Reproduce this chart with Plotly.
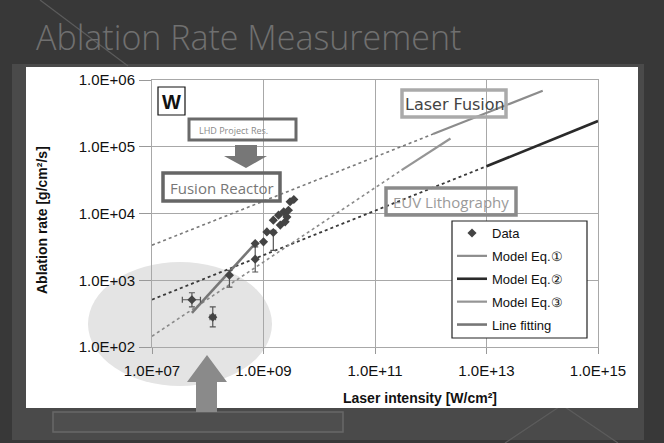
import plotly.graph_objects as go

# ---------------- data ----------------
intensity = [5.2e7, 1.23e8, 2.45e8, 7.1e8, 7.1e8, 1.0e9, 1.15e9, 1.5e9, 1.5e9,
             1.86e9, 2.0e9, 2.3e9, 2.45e9, 2.63e9, 2.8e9, 3.0e9, 3.5e9]
rate = [510, 280, 1190, 3550, 2070, 3760, 5300, 5200, 7950,
        9440, 6700, 10600, 7500, 8900, 11200, 15000, 16200]
rate_hi = [650, 400, 1410, 3550, 3160, 3760, 5300, 5600, 7950,
           9440, 6700, 10600, 7500, 8900, 11200, 15000, 16200]
rate_lo = [400, 200, 790, 3550, 1330, 3760, 5300, 2800, 7950,
           9440, 6700, 10600, 7500, 8900, 11200, 15000, 16200]
int_hi = [7.4e7, 1.38e8, 2.45e8, 7.1e8, 7.1e8, 1.0e9, 1.15e9, 1.5e9, 1.5e9,
          1.86e9, 2.0e9, 2.3e9, 2.45e9, 2.63e9, 2.8e9, 3.0e9, 3.5e9]
int_lo = [3.5e7, 1.1e8, 2.45e8, 7.1e8, 7.1e8, 1.0e9, 1.15e9, 1.5e9, 1.5e9,
          1.86e9, 2.0e9, 2.3e9, 2.45e9, 2.63e9, 2.8e9, 3.0e9, 3.5e9]

eq1_dot_x = [1e7, 1.1e12]
eq1_dot_y = [3350, 1.55e5]
eq1_x = [1.1e12, 1.02e14]
eq1_y = [1.55e5, 6.9e5]

eq2_dot_x = [1e7, 1e13]
eq2_dot_y = [513, 5.1e4]
eq2_x = [1e13, 1e15]
eq2_y = [5.1e4, 2.43e5]

eq3_dot_x = [1e7, 3.0e11]
eq3_dot_y = [145, 4.47e4]
eq3_x = [3.0e11, 2.26e12]
eq3_y = [4.47e4, 1.33e5]

fit_x = [5.2e7, 7.1e8]
fit_y = [325, 3550]

x_ticks = [1e7, 1e9, 1e11, 1e13, 1e15]
x_ticktext = ["1.0E+07", "1.0E+09", "1.0E+11", "1.0E+13", "1.0E+15"]
y_ticks = [1e2, 1e3, 1e4, 1e5, 1e6]
y_ticktext = ["1.0E+02", "1.0E+03", "1.0E+04", "1.0E+05", "1.0E+06"]

# ---------------- layout helpers ----------------
W, H = 664, 443
PL, PR, PT, PB = 152, 598, 80, 347


def fx(px):
    return (px - PL) / (PR - PL)


def fy(py):
    return (PB - py) / (PB - PT)


fig = go.Figure()

# dotted model extensions
for xs, ys, col, wd in [(eq1_dot_x, eq1_dot_y, "#7a7a7a", 1.6),
                        (eq2_dot_x, eq2_dot_y, "#3a3a3a", 1.8),
                        (eq3_dot_x, eq3_dot_y, "#8a8a8a", 1.6)]:
    fig.add_trace(go.Scatter(x=xs, y=ys, mode="lines", showlegend=False,
                             line=dict(color=col, width=wd, dash="dot"),
                             hoverinfo="skip"))

fig.add_trace(go.Scatter(x=eq1_x, y=eq1_y, mode="lines", name="Model Eq.①", legendgroup="g2",
                         line=dict(color="#8c8c8c", width=2.2), legendrank=2))
fig.add_trace(go.Scatter(x=eq2_x, y=eq2_y, mode="lines", name="Model Eq.②", legendgroup="g3",
                         line=dict(color="#2a2a2a", width=2.6), legendrank=3))
fig.add_trace(go.Scatter(x=eq3_x, y=eq3_y, mode="lines", name="Model Eq.③", legendgroup="g4",
                         line=dict(color="#959595", width=2.2), legendrank=4))
fig.add_trace(go.Scatter(x=fit_x, y=fit_y, mode="lines", name="Line fitting", legendgroup="g5",
                         line=dict(color="#777777", width=2.6), legendrank=5))

err_plus = [h - r for h, r in zip(rate_hi, rate)]
err_minus = [r - l for r, l in zip(rate, rate_lo)]
errx_plus = [h - i for h, i in zip(int_hi, intensity)]
errx_minus = [i - l for i, l in zip(intensity, int_lo)]

fig.add_trace(go.Scatter(
    x=intensity, y=rate, mode="markers", name="Data", legendrank=1, legendgroup="g1",
    marker=dict(symbol="diamond", size=7, color="#444444"),
    error_y=dict(type="data", symmetric=False, array=err_plus, arrayminus=err_minus,
                 color="#555555", thickness=1.2, width=3),
    error_x=dict(type="data", symmetric=False, array=errx_plus, arrayminus=errx_minus,
                 color="#555555", thickness=1.2, width=3),
))

shapes = []
# slide background blocks
shapes.append(dict(type="rect", xref="paper", yref="paper", layer="below",
                   x0=fx(12), x1=fx(644), y0=fy(440), y1=fy(64),
                   fillcolor="#4a4a4a", line=dict(width=0)))
# diagonal decorative lines
for (x0, y0, x1, y1) in [(40, 0, 128, 66), (505, 443, 562, 405), (562, 405, 618, 443)]:
    shapes.append(dict(type="line", xref="paper", yref="paper", layer="below",
                       x0=fx(x0), y0=fy(y0), x1=fx(x1), y1=fy(y1),
                       line=dict(color="#5c5c5c", width=1.2)))
# white chart panel
shapes.append(dict(type="rect", xref="paper", yref="paper", layer="below",
                   x0=fx(26), x1=fx(638), y0=fy(408), y1=fy(67),
                   fillcolor="white", line=dict(width=0)))
# highlighted ellipse
shapes.append(dict(type="circle", xref="paper", yref="paper", layer="below",
                   x0=fx(88), x1=fx(272), y0=fy(386), y1=fy(262),
                   fillcolor="#e4e4e4", line=dict(width=0)))
# legend frame
shapes.append(dict(type="rect", xref="paper", yref="paper", layer="above",
                   x0=fx(452), x1=fx(587), y0=fy(338), y1=fy(221),
                   fillcolor="white", line=dict(color="#222222", width=1.2)))
# boxes
for (x0, y0, x1, y1, col, wd) in [(158, 87, 185, 115, "#111111", 1.2),
                                  (189, 119, 296, 140, "#6a6a6a", 3),
                                  (163, 173, 280, 201, "#666666", 3.5),
                                  (402, 90, 506, 117, "#aaaaaa", 3.5),
                                  (386, 188, 516, 215, "#8a8a8a", 3.5)]:
    shapes.append(dict(type="rect", xref="paper", yref="paper", layer="above",
                       x0=fx(x0), x1=fx(x1), y0=fy(y1), y1=fy(y0),
                       line=dict(color=col, width=wd)))


def path(pts):
    s = "M " + " L ".join(f"{fx(a):.5f},{fy(b):.5f}" for a, b in pts) + " Z"
    return s


# down arrow
shapes.append(dict(type="path", xref="paper", yref="paper", layer="above",
                   path=path([(235, 145), (257, 145), (257, 156), (267, 156), (246, 168),
                              (224, 156), (235, 156)]),
                   fillcolor="#777777", line=dict(width=0)))
# bottom box
shapes.append(dict(type="rect", xref="paper", yref="paper", layer="above",
                   x0=fx(53), x1=fx(343), y0=fy(432), y1=fy(412),
                   fillcolor="#4e4e4e", line=dict(color="#686868", width=1.5)))
# up arrow
shapes.append(dict(type="path", xref="paper", yref="paper", layer="above",
                   path=path([(196, 412), (196, 382), (187, 382), (207, 355), (227, 382),
                              (217, 382), (217, 412)]),
                   fillcolor="#8a8a8a", line=dict(width=0)))


def note(text, px, py, size, color, family="Open Sans", anchor="center", **kw):
    return dict(text=text, x=fx(px), y=fy(py), xref="paper", yref="paper",
                xanchor=anchor, yanchor="middle", showarrow=False,
                font=dict(family=family, size=size, color=color, **kw))


ann = [
    note("Ablation Rate Measurement", 34, 37, 34, "#707070", anchor="left", weight=300),
    note("W", 171.5, 101.5, 20, "#111111", family="Liberation Sans", weight="bold"),
    note("LHD Project Res.", 197, 130, 9, "#8a8a8a", anchor="left"),
    note("Fusion Reactor", 221.5, 187.5, 15, "#777777"),
    note("Laser Fusion", 455, 104, 16, "#444444", family="DejaVu Sans"),
    note("EUV Lithography", 451, 202, 15, "#9a9a9a"),
    note("<b>Laser intensity [W/cm²]</b>", 420, 398, 14, "#111111", family="Liberation Sans"),
]
a = note("<b>Ablation rate [g/cm²/s]</b>", 42, 220, 14, "#111111", family="Liberation Sans")
a["textangle"] = -90
ann.append(a)

fig.update_layout(
    width=W, height=H, autosize=False,
    margin=dict(l=PL, r=W - PR, t=PT, b=H - PB, pad=0),
    paper_bgcolor="#383838",
    plot_bgcolor="rgba(0,0,0,0)",
    shapes=shapes,
    annotations=ann,
    showlegend=True,
    legend=dict(x=fx(452), y=fy(218), xanchor="left", yanchor="top",
                bgcolor="rgba(0,0,0,0)", borderwidth=0,
                font=dict(family="Liberation Sans", size=13, color="#111"),
                traceorder="grouped", tracegroupgap=3, itemwidth=30),
)
fig.update_xaxes(type="log", range=[7, 15], tickvals=x_ticks, ticktext=x_ticktext,
                 showgrid=True, gridcolor="#a8a8a8", gridwidth=1,
                 showline=True, mirror=True, linecolor="#a8a8a8", linewidth=1,
                 ticks="outside", ticklen=6, tickcolor="#999999",
                 ticklabelstandoff=4,
                 tickfont=dict(family="Liberation Sans", size=15, color="#111"),
                 zeroline=False)
fig.update_yaxes(type="log", range=[2, 6], tickvals=y_ticks, ticktext=y_ticktext,
                 showgrid=True, gridcolor="#a8a8a8", gridwidth=1,
                 showline=True, mirror=True, linecolor="#a8a8a8", linewidth=1,
                 ticks="outside", ticklen=12, tickcolor="#999999",
                 ticklabelstandoff=1,
                 tickfont=dict(family="Liberation Sans", size=15, color="#111"),
                 zeroline=False)

fig.write_html("out.html", config={"displayModeBar": False},
               post_script="document.body.style.margin='0px';document.body.style.padding='0px';")
